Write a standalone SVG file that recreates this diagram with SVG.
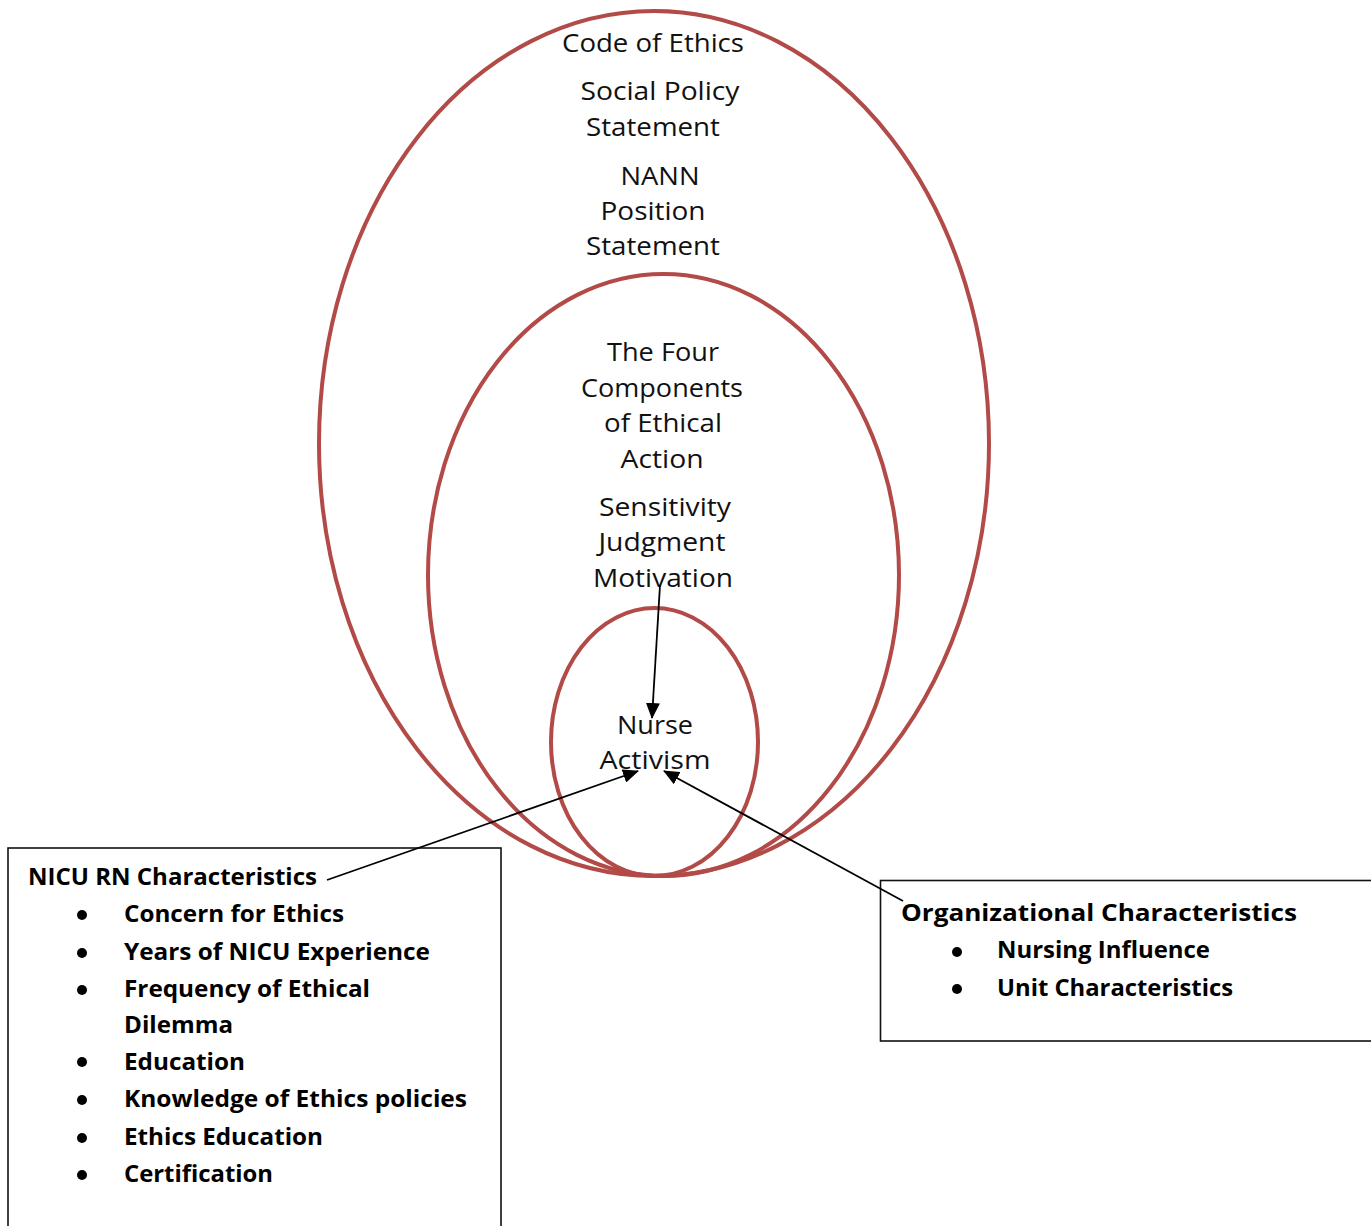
<svg xmlns="http://www.w3.org/2000/svg" width="1371" height="1226" viewBox="0 0 1371 1226">
<style>
.ring{fill:none;stroke:#b24a48;stroke-width:4}
.lbl{font-family:"Open Sans","Noto Sans",sans-serif;font-size:26px;fill:#111;text-anchor:middle}
.lbl2{font-family:"Open Sans","Noto Sans",sans-serif;font-size:25px;fill:#111;text-anchor:middle}
.bx{fill:#fff;stroke:#111;stroke-width:1.6}
.bt{font-family:"Open Sans","Noto Sans",sans-serif;font-weight:bold;font-size:24px;fill:#000}
.dot{fill:#000}
.conn{stroke:#000;stroke-width:1.8;fill:none;marker-end:url(#ah)}
</style>
<defs>
<marker id="ah" viewBox="0 0 16 14" refX="15" refY="7" markerWidth="16" markerHeight="14" markerUnits="userSpaceOnUse" orient="auto">
<path d="M0,0 L16,7 L0,14 z" fill="#000"/>
</marker>
</defs>
<rect width="1371" height="1226" fill="#fff"/>

<g id="outer-ring">
<ellipse class="ring" cx="654" cy="443.5" rx="335" ry="432.5"/>
<text class="lbl" x="653" y="52" textLength="182" lengthAdjust="spacingAndGlyphs">Code of Ethics</text>
<text class="lbl" x="660" y="100" textLength="159" lengthAdjust="spacingAndGlyphs">Social Policy</text>
<text class="lbl" x="653" y="136" textLength="134" lengthAdjust="spacingAndGlyphs">Statement</text>
<text class="lbl" x="660" y="185" textLength="79" lengthAdjust="spacingAndGlyphs">NANN</text>
<text class="lbl" x="653" y="220" textLength="105" lengthAdjust="spacingAndGlyphs">Position</text>
<text class="lbl" x="653" y="255" textLength="134" lengthAdjust="spacingAndGlyphs">Statement</text>
</g>

<g id="middle-ring">
<ellipse class="ring" cx="663.5" cy="575" rx="235.5" ry="301"/>
<text class="lbl2" x="663" y="361" textLength="112" lengthAdjust="spacingAndGlyphs">The Four</text>
<text class="lbl2" x="662" y="397" textLength="162" lengthAdjust="spacingAndGlyphs">Components</text>
<text class="lbl2" x="663" y="432" textLength="118" lengthAdjust="spacingAndGlyphs">of Ethical</text>
<text class="lbl2" x="662" y="468" textLength="83" lengthAdjust="spacingAndGlyphs">Action</text>
<text class="lbl2" x="665" y="516" textLength="132" lengthAdjust="spacingAndGlyphs">Sensitivity</text>
<text class="lbl2" x="662" y="551" textLength="127" lengthAdjust="spacingAndGlyphs">Judgment</text>
<text class="lbl2" x="663" y="587" textLength="140" lengthAdjust="spacingAndGlyphs">Motivation</text>
</g>

<g id="inner-ring">
<ellipse class="ring" cx="654.5" cy="742" rx="103.5" ry="134"/>
<text class="lbl2" x="655" y="734" textLength="76" lengthAdjust="spacingAndGlyphs">Nurse</text>
<text class="lbl2" x="655" y="769" textLength="111" lengthAdjust="spacingAndGlyphs">Activism</text>
</g>

<g id="nicu-rn-box">
<rect class="bx" x="8" y="848" width="493" height="400"/>
<text class="bt" x="28" y="885" textLength="289" lengthAdjust="spacingAndGlyphs">NICU RN Characteristics</text>
<circle class="dot" cx="82" cy="915" r="5"/>
<text class="bt" x="124" y="922" textLength="220" lengthAdjust="spacingAndGlyphs">Concern for Ethics</text>
<circle class="dot" cx="82" cy="953" r="5"/>
<text class="bt" x="124" y="960" textLength="306" lengthAdjust="spacingAndGlyphs">Years of NICU Experience</text>
<circle class="dot" cx="82" cy="990" r="5"/>
<text class="bt" x="124" y="997" textLength="246" lengthAdjust="spacingAndGlyphs">Frequency of Ethical</text>
<text class="bt" x="124" y="1033" textLength="109" lengthAdjust="spacingAndGlyphs">Dilemma</text>
<circle class="dot" cx="82" cy="1062" r="5"/>
<text class="bt" x="124" y="1070" textLength="121" lengthAdjust="spacingAndGlyphs">Education</text>
<circle class="dot" cx="82" cy="1100" r="5"/>
<text class="bt" x="124" y="1107" textLength="343" lengthAdjust="spacingAndGlyphs">Knowledge of Ethics policies</text>
<circle class="dot" cx="82" cy="1138" r="5"/>
<text class="bt" x="124" y="1145" textLength="199" lengthAdjust="spacingAndGlyphs">Ethics Education</text>
<circle class="dot" cx="82" cy="1175" r="5"/>
<text class="bt" x="124" y="1182" textLength="149" lengthAdjust="spacingAndGlyphs">Certification</text>
</g>

<g id="org-box">
<rect class="bx" x="880.5" y="880.5" width="500" height="160.5"/>
<text class="bt" x="901" y="921" textLength="396" lengthAdjust="spacingAndGlyphs">Organizational Characteristics</text>
<circle class="dot" cx="957" cy="952" r="5"/>
<text class="bt" x="997" y="958" textLength="213" lengthAdjust="spacingAndGlyphs">Nursing Influence</text>
<circle class="dot" cx="957" cy="989" r="5"/>
<text class="bt" x="997" y="996" textLength="236" lengthAdjust="spacingAndGlyphs">Unit Characteristics</text>
</g>

<g id="connectors">
<line class="conn" x1="660" y1="585" x2="652" y2="718"/>
<line class="conn" x1="327" y1="880" x2="638" y2="771"/>
<line class="conn" x1="903" y1="901" x2="664" y2="771"/>
</g>
</svg>
